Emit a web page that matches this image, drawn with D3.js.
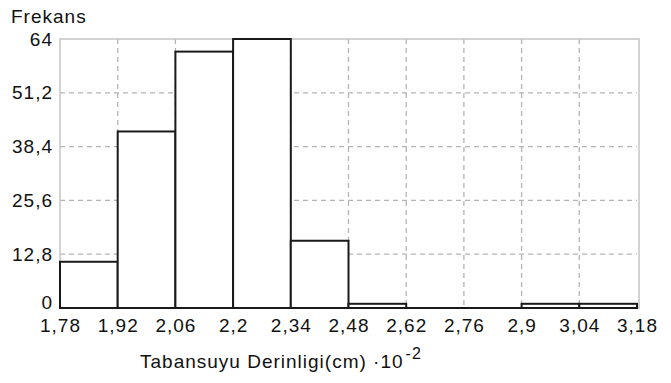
<!DOCTYPE html>
<html><head><meta charset="utf-8">
<script src="https://cdn.jsdelivr.net/npm/d3@7"></script>
<style>body{margin:0;background:#fff}svg{display:block}text{font-family:"Liberation Sans",Arial,sans-serif;fill:#111;letter-spacing:1px}</style>
</head><body>
<script>
const binStarts = [1.78, 1.92, 2.06, 2.2, 2.34, 2.48, 2.62, 2.76, 2.9, 3.04];
const binWidth = 0.14;
const frequencies = [11, 42, 61, 64, 16, 1, 0, 0, 1, 1];
const xTicks = [1.78, 1.92, 2.06, 2.2, 2.34, 2.48, 2.62, 2.76, 2.9, 3.04, 3.18];
const yTicks = [0, 12.8, 25.6, 38.4, 51.2, 64];
const yTitle = "Frekans";
const xTitle = "Tabansuyu Derinligi(cm) \u00B710";
const xTitleExp = "-2";

const W = 671, H = 383;
const m = {left: 60, right: 637, top: 39, bottom: 308};
const loc = d3.formatLocale({decimal: ",", thousands: ".", grouping: [3], currency: ["", ""]});
const fmt = v => loc.format("~g")(+v.toFixed(2));

const svg = d3.select("body").append("svg").attr("width", W).attr("height", H);
const x = d3.scaleLinear().domain([xTicks[0], xTicks[xTicks.length-1]]).range([m.left, m.right]);
const y = d3.scaleLinear().domain([yTicks[0], yTicks[yTicks.length-1]]).range([m.bottom, m.top]);

// grid
const grid = svg.append("g").attr("stroke", "#b4b4b4").attr("stroke-width", 1.3).attr("stroke-dasharray", "5,4");
grid.selectAll("line.v").data(xTicks.slice(1, -1)).join("line")
  .attr("x1", d => x(d)).attr("x2", d => x(d)).attr("y1", m.top).attr("y2", m.bottom);
grid.selectAll("line.h").data(yTicks.slice(1, -1)).join("line")
  .attr("y1", d => y(d)).attr("y2", d => y(d)).attr("x1", m.left).attr("x2", m.right);

// frame
svg.append("rect").attr("x", m.left).attr("y", m.top).attr("width", m.right - m.left + 2).attr("height", m.bottom - m.top)
  .attr("fill", "none").attr("stroke", "#c4c4c4").attr("stroke-width", 1.5);

// bars
svg.append("g").selectAll("rect").data(binStarts.map((s, i) => ({s, v: frequencies[i]})).filter(d => d.v > 0)).join("rect")
  .attr("x", d => x(d.s)).attr("width", d => x(d.s + binWidth) - x(d.s))
  .attr("y", d => y(d.v)).attr("height", d => y(0) - y(d.v))
  .attr("fill", "#fff").attr("stroke", "#1a1a1a").attr("stroke-width", 2);

// baseline
svg.append("line").attr("x1", m.left).attr("x2", m.right).attr("y1", y(0)).attr("y2", y(0)).attr("stroke", "#1a1a1a").attr("stroke-width", 2);

// axes
const xAxis = d3.axisBottom(x).tickValues(xTicks).tickFormat(fmt).tickSize(0).tickPadding(11);
const gx = svg.append("g").attr("transform", `translate(0,${m.bottom})`).call(xAxis);
gx.select(".domain").remove();
gx.selectAll("text").attr("font-size", 19).attr("fill", "#111");

const yAxis = d3.axisLeft(y).tickValues(yTicks).tickFormat(fmt).tickSize(0).tickPadding(7);
const gy = svg.append("g").attr("transform", `translate(${m.left},0)`).call(yAxis);
gy.select(".domain").remove();
gy.selectAll("text").attr("font-size", 19).attr("fill", "#111");
gy.selectAll(".tick").filter(d => d === 0).select("text").attr("dy", "0.05em");

svg.append("text").attr("x", 11).attr("y", 23).attr("font-size", 19).text(yTitle);
const t = svg.append("text").attr("x", 140).attr("y", 368).attr("font-size", 19).text(xTitle);
t.append("tspan").attr("dy", -9).attr("dx", 2).attr("font-size", 16).text(xTitleExp);
</script>
</body></html>
